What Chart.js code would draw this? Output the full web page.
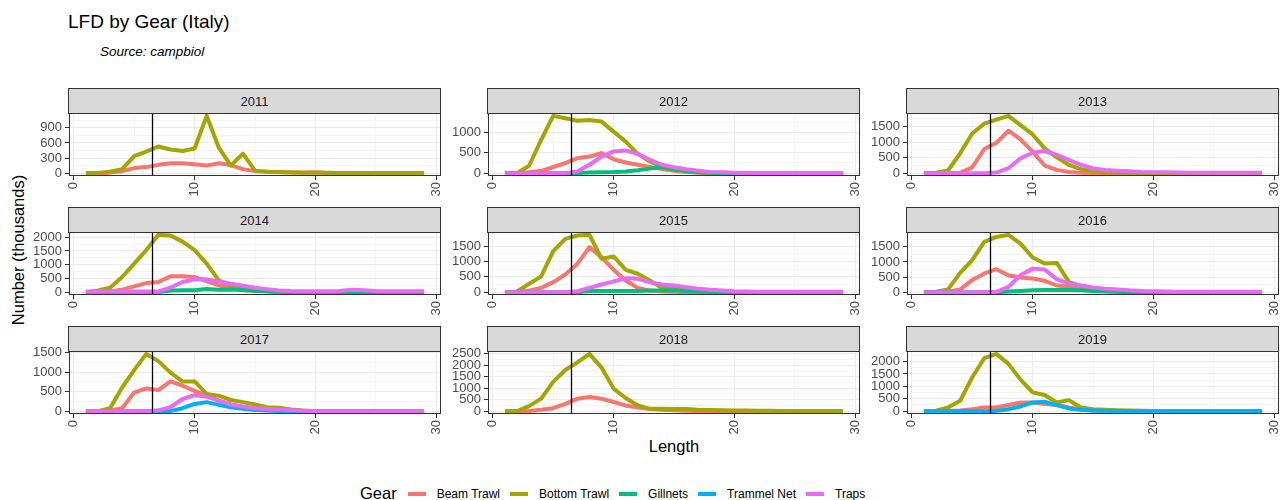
<!DOCTYPE html>
<html>
<head>
<meta charset="utf-8">
<script src="https://cdn.jsdelivr.net/npm/chart.js@4.4.1/dist/chart.umd.min.js"></script>
<style>
    body { margin: 0; background: #fff; width: 1287px; height: 500px; position: relative; overflow: hidden;
           font-family: "Liberation Sans", Arial, sans-serif; }
    .txt { position: absolute; white-space: nowrap; line-height: 1; }
    .strip { position: absolute; box-sizing: border-box; background: #d9d9d9; border: 1px solid #333;
             color: #1a1a1a; font-size: 13px; display: flex; align-items: center; justify-content: center; z-index: 2; }
    canvas { position: absolute; z-index: 1; }
    #legend { position: absolute; left: 360px; top: 484px; display: flex; align-items: center; z-index: 3; }
    #legend .title { font-size: 16.5px; margin-right: 11px; }
    #legend .key { width: 18px; height: 4px; margin-right: 11px; }
    #legend .lab { font-size: 12px; margin-right: 10px; }
</style>
</head>
<body>
<div class="txt" style="left:68px;top:12px;font-size:19px;">LFD by Gear (Italy)</div>
<div class="txt" style="left:100px;top:45px;font-size:13.5px;font-style:italic;">Source: campbiol</div>
<div class="txt" style="left:18px;top:250px;font-size:16.5px;transform:translate(-50%,-50%) rotate(-90deg);">Number (thousands)</div>
<div class="txt" style="left:674px;top:446px;font-size:16.5px;transform:translate(-50%,-50%);">Length</div>
<div id="legend"></div>
<div id="panels"></div>

<script>
// ================= DATA =================
const YEARS = ['2011', '2012', '2013', '2014', '2015', '2016', '2017', '2018', '2019'];
const LENGTHS = [1, 2, 3, 4, 5, 6, 7, 8, 9, 10, 11, 12, 13, 14, 15, 16, 17, 18, 19, 20, 21, 22, 23, 24, 25, 26, 27, 28, 29];
const GEARS = ['Beam Trawl', 'Bottom Trawl', 'Gillnets', 'Trammel Net', 'Traps'];
const GEAR_COLORS = ['#F8766D', '#A3A500', '#00BF7D', '#00B0F6', '#E76BF3'];

// one row per year (null = gear not sampled that year)
const beamTrawl = [
    [0, 0, 10, 40, 100, 120, 165, 195, 195, 175, 150, 195, 160, 80, 40, 30, 25, 20, 15, 20, 10, 5, 5, 5, 5, 5, 5, 5, 5],
    [0, 0, 20, 50, 150, 245, 365, 405, 490, 340, 260, 205, 150, 100, 60, 30, 15, 5, 0, 0, 0, 0, 0, 0, 0, 0, 0, 0, 0],
    [0, 0, 0, 10, 190, 780, 980, 1370, 1090, 695, 245, 105, 40, 15, 5, 0, 0, 0, 0, 0, 0, 0, 0, 0, 0, 0, 0, 0, 0],
    [0, 10, 30, 90, 210, 330, 370, 575, 575, 550, 400, 245, 150, 80, 40, 20, 10, 0, 0, 0, 0, 0, 0, 0, 0, 0, 0, 0, 0],
    [0, 10, 50, 140, 325, 575, 925, 1470, 1140, 730, 380, 140, 50, 20, 10, 0, 0, 0, 0, 0, 0, 0, 0, 0, 0, 0, 0, 0, 0],
    [0, 0, 10, 90, 400, 620, 760, 560, 485, 450, 375, 220, 175, 120, 70, 40, 20, 5, 0, 0, 0, 0, 0, 0, 0, 0, 0, 0, 0],
    [0, 0, 10, 75, 480, 580, 540, 760, 650, 520, 410, 270, 170, 100, 60, 30, 15, 5, 0, 0, 0, 0, 0, 0, 0, 0, 0, 0, 0],
    [0, 0, 10, 60, 130, 320, 545, 620, 545, 400, 250, 160, 90, 60, 40, 20, 10, 0, 0, 0, 0, 0, 0, 0, 0, 0, 0, 0, 0],
    [0, 0, 10, 30, 80, 150, 150, 245, 350, 350, 285, 245, 150, 70, 30, 15, 5, 0, 0, 0, 0, 0, 0, 0, 0, 0, 0, 0, 0]
];
const bottomTrawl = [
    [0, 5, 30, 80, 340, 430, 530, 470, 440, 490, 1140, 510, 150, 390, 50, 30, 20, 15, 10, 10, 5, 5, 5, 5, 5, 5, 5, 5, 5],
    [0, 0, 180, 810, 1400, 1340, 1280, 1300, 1260, 1015, 770, 470, 285, 150, 80, 40, 15, 5, 5, 5, 5, 5, 5, 5, 5, 5, 5, 5, 5],
    [0, 10, 85, 640, 1280, 1600, 1730, 1850, 1550, 1250, 800, 510, 270, 130, 60, 30, 15, 5, 5, 5, 5, 5, 5, 5, 5, 5, 5, 5, 5],
    [0, 60, 160, 550, 1040, 1530, 2085, 2060, 1840, 1530, 1040, 430, 245, 150, 80, 40, 20, 5, 5, 5, 5, 5, 5, 5, 5, 5, 5, 5, 5],
    [0, 20, 270, 510, 1340, 1740, 1850, 1870, 1090, 1165, 730, 600, 380, 140, 100, 60, 30, 15, 5, 5, 5, 5, 5, 5, 5, 5, 5, 5, 5],
    [0, 10, 90, 640, 1060, 1665, 1830, 1900, 1610, 1150, 950, 970, 340, 200, 120, 70, 40, 20, 10, 5, 5, 5, 5, 5, 5, 5, 5, 5, 5],
    [0, 0, 75, 605, 1050, 1465, 1280, 985, 760, 760, 440, 395, 285, 230, 170, 100, 85, 40, 15, 5, 5, 5, 5, 5, 5, 5, 5, 5, 5],
    [0, 0, 220, 545, 1280, 1795, 2130, 2500, 1900, 985, 575, 250, 100, 100, 90, 90, 60, 50, 40, 30, 25, 20, 15, 10, 10, 10, 5, 5, 5],
    [0, 20, 150, 420, 1365, 2135, 2310, 1905, 1270, 755, 650, 350, 445, 150, 80, 60, 40, 25, 15, 10, 10, 10, 5, 5, 5, 5, 5, 5, 5]
];
const gillnets = [
    null,
    [0, 0, 0, 0, 0, 0, 5, 15, 20, 25, 40, 70, 110, 150, 100, 60, 30, 10, 0, 0, 0, 0, 0, 0, 0, 0, 0, 0, 0],
    null,
    [0, 0, 0, 0, 0, 0, 0, 60, 70, 70, 110, 90, 100, 80, 50, 30, 15, 5, 0, 0, 0, 0, 0, 0, 0, 0, 0, 0, 0],
    [0, 0, 0, 0, 0, 0, 0, 35, 40, 40, 40, 40, 50, 55, 60, 40, 20, 10, 0, 0, 0, 0, 0, 0, 0, 0, 0, 0, 0],
    [0, 0, 0, 0, 0, 0, 0, 20, 40, 65, 70, 70, 70, 60, 40, 20, 10, 0, 0, 0, 0, 0, 0, 0, 0, 0, 0, 0, 0],
    null,
    null,
    null
];
const trammelNet = [
    null, null, null, null, null, null,
    [0, 0, 0, 0, 0, 0, 0, 0, 75, 185, 230, 160, 100, 60, 30, 15, 5, 0, 0, 0, 0, 0, 0, 0, 0, 0, 0, 0, 0],
    null,
    [0, 0, 0, 0, 0, 0, 10, 80, 190, 350, 380, 245, 110, 55, 30, 15, 5, 0, 0, 0, 0, 0, 0, 0, 0, 0, 0, 0, 0]
];
const traps = [
    null,
    [0, 0, 0, 0, 0, 0, 40, 205, 405, 530, 555, 470, 325, 205, 145, 95, 60, 30, 20, 10, 5, 5, 5, 5, 5, 5, 5, 5, 5],
    [0, 0, 0, 0, 0, 0, 20, 160, 480, 660, 715, 590, 430, 270, 150, 105, 80, 60, 40, 30, 25, 20, 15, 10, 10, 10, 10, 10, 10],
    [25, 25, 25, 25, 25, 25, 25, 160, 370, 465, 465, 390, 305, 235, 160, 110, 60, 40, 30, 30, 30, 40, 85, 70, 40, 30, 30, 30, 30],
    [0, 0, 0, 0, 0, 0, 30, 140, 250, 350, 455, 435, 325, 250, 215, 160, 110, 75, 50, 30, 20, 10, 10, 10, 10, 10, 10, 10, 10],
    [0, 0, 0, 0, 0, 0, 10, 175, 560, 780, 750, 430, 285, 220, 155, 110, 90, 60, 40, 30, 20, 10, 10, 10, 10, 10, 10, 10, 10],
    [0, 0, 0, 0, 0, 0, 20, 100, 310, 410, 370, 270, 170, 120, 75, 55, 40, 20, 10, 0, 0, 0, 0, 0, 0, 0, 0, 0, 0],
    null,
    null
];
const GEAR_DATA = [beamTrawl, bottomTrawl, gillnets, trammelNet, traps];

const Y_STEPS = [300, 500, 500, 500, 500, 500, 500, 500, 500];
const X_TICKS = [0, 10, 20, 30];
const X_RANGE = [-0.4, 30.4];
const REF_LENGTH = 6.5;

// ================= LAYOUT =================
const COL_LEFT = [69, 488, 907];
const ROW_TOP = [113, 232, 351];
const PLOT_W = 372, PLOT_H = 63;
const Y_AXIS_W = 45, X_AXIS_H = 26, PAD_T = 8, PAD_R = 8;

Chart.defaults.font.family = '"Liberation Sans", Arial, sans-serif';
Chart.defaults.font.size = 13;

// panel border + reference line
const panelFrame = {
    id: 'panelFrame',
    afterDatasetsDraw(chart) {
        const { ctx, chartArea: a, scales: { x } } = chart;
        ctx.save();
        const px = Math.round(x.getPixelForValue(REF_LENGTH)) + 0.5;
        ctx.strokeStyle = '#000';
        ctx.lineWidth = 1.3;
        ctx.beginPath();
        ctx.moveTo(px, a.top);
        ctx.lineTo(px, a.bottom);
        ctx.stroke();
        ctx.strokeStyle = '#333';
        ctx.lineWidth = 1;
        ctx.strokeRect(a.left + 0.5, a.top + 0.5, a.width - 1, a.height - 1);
        ctx.restore();
    }
};

function isMajor(v, step) {
    return Math.abs(v / step - Math.round(v / step)) < 1e-6;
}

function buildPanel(p) {
    const col = p % 3, row = Math.floor(p / 3);
    const left = COL_LEFT[col], top = ROW_TOP[row];
    const step = Y_STEPS[p];
    const holder = document.getElementById('panels');

    const strip = document.createElement('div');
    strip.className = 'strip';
    strip.style.left = (left - 1) + 'px';
    strip.style.top = (top - 25) + 'px';
    strip.style.width = (PLOT_W + 1) + 'px';
    strip.style.height = '26px';
    strip.textContent = YEARS[p];
    holder.appendChild(strip);

    const cv = document.createElement('canvas');
    cv.width = Y_AXIS_W + PLOT_W + PAD_R;
    cv.height = PAD_T + PLOT_H + X_AXIS_H;
    cv.style.left = (left - Y_AXIS_W) + 'px';
    cv.style.top = (top - PAD_T) + 'px';
    holder.appendChild(cv);

    const datasets = [];
    let yMax = 0;
    GEARS.forEach((g, gi) => {
        const vals = GEAR_DATA[gi][p];
        if (!vals) return;
        yMax = Math.max(yMax, ...vals);
        datasets.push({
            label: g,
            data: LENGTHS.map((l, i) => ({ x: l, y: vals[i] })),
            borderColor: GEAR_COLORS[gi],
            borderWidth: 4,
            borderJoinStyle: 'round',
            pointRadius: 0,
            tension: 0,
            order: GEARS.length - gi
        });
    });
    const yMin = -0.05 * yMax, yTop = 1.05 * yMax;

    new Chart(cv, {
        type: 'line',
        data: { datasets },
        options: {
            responsive: false,
            animation: false,
            devicePixelRatio: 1,
            layout: { padding: { left: 0, top: PAD_T, right: PAD_R, bottom: 0 } },
            plugins: { legend: { display: false }, tooltip: { enabled: false } },
            scales: {
                x: {
                    type: 'linear',
                    min: X_RANGE[0],
                    max: X_RANGE[1],
                    afterBuildTicks: s => {
                        const t = [];
                        for (let i = 0; i < X_TICKS.length; i++) {
                            t.push({ value: X_TICKS[i] });
                            if (i < X_TICKS.length - 1) t.push({ value: (X_TICKS[i] + X_TICKS[i + 1]) / 2 });
                        }
                        s.ticks = t;
                    },
                    afterFit: s => { s.height = X_AXIS_H; s.paddingLeft = 0; s.paddingRight = 0; },
                    ticks: {
                        autoSkip: false, minRotation: 90, maxRotation: 90, padding: 2, color: '#4d4d4d',
                        callback: v => (isMajor(v, 10) ? String(v) : '')
                    },
                    grid: {
                        color: c => (isMajor(c.tick.value, 10) ? '#ebebeb' : '#f4f4f4'),
                        tickColor: c => (isMajor(c.tick.value, 10) ? '#333' : 'rgba(0,0,0,0)'),
                        tickLength: 4,
                        lineWidth: 1
                    },
                    border: { display: false }
                },
                y: {
                    type: 'linear',
                    min: yMin,
                    max: yTop,
                    afterBuildTicks: s => {
                        const t = [];
                        for (let v = 0; v <= yTop; v += step / 2) t.push({ value: v });
                        s.ticks = t;
                    },
                    afterFit: s => { s.width = Y_AXIS_W; s.paddingTop = 0; s.paddingBottom = 0; },
                    ticks: {
                        autoSkip: false, padding: 3, color: '#4d4d4d',
                        callback: v => (isMajor(v, step) ? String(v) : '')
                    },
                    grid: {
                        color: c => (isMajor(c.tick.value, step) ? '#ebebeb' : '#f4f4f4'),
                        tickColor: c => (isMajor(c.tick.value, step) ? '#333' : 'rgba(0,0,0,0)'),
                        tickLength: 4,
                        lineWidth: 1
                    },
                    border: { display: false }
                }
            }
        },
        plugins: [panelFrame]
    });
}

function buildLegend() {
    const lg = document.getElementById('legend');
    lg.innerHTML = '<span class="title">Gear</span>' + GEARS.map((g, i) =>
        `<span class="key" style="background:${GEAR_COLORS[i]}"></span><span class="lab">${g}</span>`).join('');
}

YEARS.forEach((_, p) => buildPanel(p));
buildLegend();
</script>
</body>
</html>
